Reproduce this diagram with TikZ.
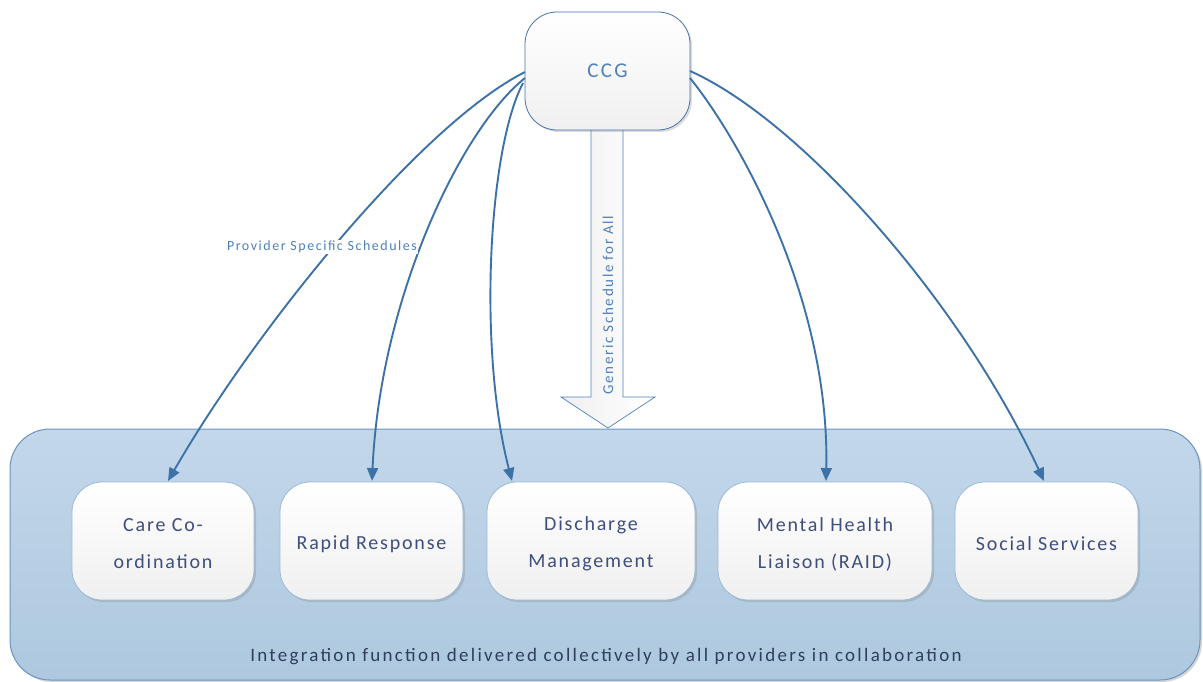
\documentclass[tikz,border=0pt]{standalone}
\usepackage{fontspec}
\setmainfont{Carlito}
\newfontfamily\spaced[LetterSpace=9]{Carlito}
\newfontfamily\midspaced[LetterSpace=11]{Carlito}
\newfontfamily\botspaced[LetterSpace=12]{Carlito}
\usetikzlibrary{arrows.meta,shadows}
\definecolor{arrowblue}{HTML}{3D72A9}
\definecolor{ccgtext}{HTML}{4F81BD}
\definecolor{boxtext}{HTML}{3E4E7E}
\definecolor{bottomtext}{HTML}{2E3E5C}
\definecolor{contTop}{HTML}{C3D7EA}
\definecolor{contBot}{HTML}{ADC8DF}
\definecolor{contBorder}{HTML}{6B94C0}
\definecolor{boxBorder}{HTML}{9BBAD8}
\tikzset{
  container/.style={draw=contBorder, line width=1pt, rounded corners=40pt,
    top color=contTop, bottom color=contBot,
    drop shadow={shadow xshift=2pt, shadow yshift=-2pt, fill=black!40, opacity=.4}},
  innerbox/.style={draw=boxBorder, line width=0.8pt, rounded corners=30pt,
    top color=white, bottom color=black!6, minimum height=118pt,
    drop shadow={shadow xshift=2pt, shadow yshift=-2pt, fill=black!45, opacity=.35}},
  boxlabel/.style={text=boxtext, align=center, font=\spaced\fontsize{20}{37}\selectfont},
  ccgbox/.style={draw=ccgtext!90!black, line width=0.8pt, rounded corners=32pt,
    top color=white, bottom color=black!6, minimum width=165pt, minimum height=118pt,
    text=ccgtext, font=\midspaced\fontsize{21}{25}\selectfont,
    drop shadow={shadow xshift=2pt, shadow yshift=-2pt, fill=black!40, opacity=.35}},
  link/.style={draw=arrowblue, line width=1.9pt, -{Triangle[length=13pt,width=11pt]}},
  bigarrow/.style={draw=ccgtext, line width=0.7pt, left color=black!6, right color=white},
}
\begin{document}
\begin{tikzpicture}[x=1pt,y=-1pt]
\useasboundingbox (0,0) rectangle (1203,682);
% container
\node[container, minimum width=1190pt, minimum height=251pt] (cont) at (605,554.5) {};
\node[text=bottomtext, font=\botspaced\fontsize{19}{22}\selectfont] (bottom) at (606,657) {Integration function delivered collectively by all providers in collaboration};
% big arrow
\path[bigarrow] (591,128) -- (591,397) -- (561,397) -- (608,428) -- (655,397) -- (623,397) -- (623,128);
\node[rotate=90, text=ccgtext, font=\midspaced\fontsize{15}{18}\selectfont] (gen) at (608,305) {Generic Schedule for All};
% CCG
\node[ccgbox] (ccg) at (607.5,71) {CCG};
% inner boxes
\node[innerbox, minimum width=182pt] (care) at (163,541) {};
\node[innerbox, minimum width=183pt] (rapid) at (371.5,541) {};
\node[innerbox, minimum width=208pt] (dis) at (591,541) {};
\node[innerbox, minimum width=214pt] (mh) at (825,541) {};
\node[innerbox, minimum width=183pt] (ss) at (1046.5,541) {};
\node[boxlabel] (careT) at ([yshift=-3pt]care.center) {Care Co-\\ordination};
\node[boxlabel] (rapidT) at ([yshift=-3pt]rapid.center) {Rapid Response};
\node[boxlabel] (disT) at ([yshift=-3pt]dis.center) {Discharge\\Management};
\node[boxlabel] (mhT) at ([yshift=-3pt]mh.center) {Mental Health\\Liaison (RAID)};
\node[boxlabel] (ssT) at ([yshift=-3pt]ss.center) {Social Services};
% connector end points
\coordinate (c1) at (525,72);
\coordinate (c2) at (525,78);
\coordinate (c3) at (523,83);
\coordinate (c4) at (690,78);
\coordinate (c5) at (690,71);
\coordinate (e1) at (168,481);
\coordinate (e2) at (372,481);
\coordinate (e3) at (512,481);
\coordinate (e4) at (826,481);
\coordinate (e5) at (1044,481);
\draw[link] (c1) .. controls (420,125) and (255,330) .. (e1);
\draw[link] (c2) .. controls (460,130) and (380,300) .. (e2);
\draw[link] (c3) .. controls (488,150) and (478,350) .. (e3);
\draw[link] (c4) .. controls (740,140) and (830,300) .. (e4);
\draw[link] (c5) .. controls (800,120) and (960,300) .. (e5);
\node[fill=white, inner sep=1pt, text=ccgtext, font=\midspaced\fontsize{14}{16}\selectfont] (prov) at (322,247) {Provider Specific Schedules};
\end{tikzpicture}
\end{document}
